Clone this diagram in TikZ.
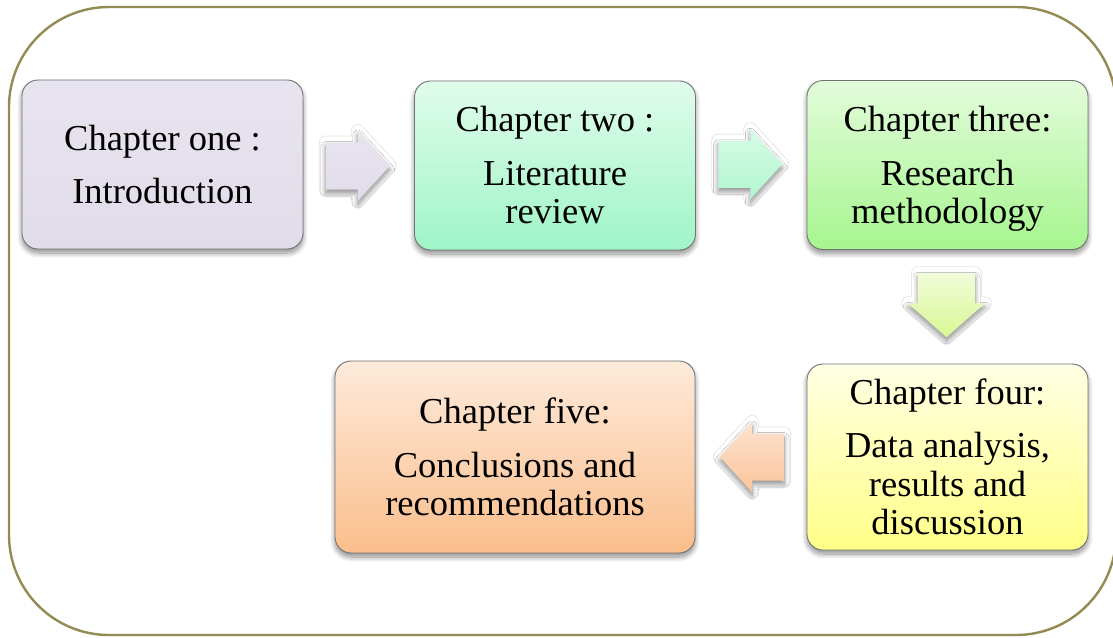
\documentclass[tikz,border=0pt]{standalone}
\usepackage{fontspec}
\setmainfont{Liberation Serif}
\usetikzlibrary{calc,backgrounds,shadows.blur}

\definecolor{framecol}{RGB}{148,138,84}
\definecolor{oneTop}{RGB}{232,228,239}
\definecolor{oneBot}{RGB}{225,220,233}
\definecolor{twoTop}{RGB}{225,252,236}
\definecolor{twoBot}{RGB}{158,245,198}
\definecolor{threeTop}{RGB}{227,252,219}
\definecolor{threeBot}{RGB}{166,245,143}
\definecolor{fourTop}{RGB}{255,255,228}
\definecolor{fourBot}{RGB}{255,255,136}
\definecolor{fiveTop}{RGB}{253,234,218}
\definecolor{fiveBot}{RGB}{251,190,140}
\definecolor{arTwoTop}{RGB}{216,251,230}
\definecolor{arTwoBot}{RGB}{176,246,206}
\definecolor{arThreeTop}{RGB}{241,252,216}
\definecolor{arThreeBot}{RGB}{216,247,148}
\definecolor{arFourTop}{RGB}{253,227,207}
\definecolor{arFourBot}{RGB}{251,196,154}

\tikzset{
  softshadow/.style={blur shadow={shadow xshift=0pt, shadow yshift=-4pt,
      shadow blur radius=5pt, shadow blur steps=10, shadow opacity=45}},
  chapbox/.style={rectangle, rounded corners=16pt, draw=black!55, line width=0.9pt,
      minimum width=281pt, minimum height=169pt, align=center, inner sep=0pt,
      font=\fontsize{36.5pt}{38.5pt}\selectfont, softshadow},
  halo/.style={draw=black!10, line width=0.9pt, rounded corners=22pt},
  arrowring/.style={draw=black!10, line width=14pt, line join=round},
  arrowgap/.style={draw=white, line width=12.2pt, line join=round},
  arrowbody/.style={softshadow},
}

% horizontal block arrow pointing right, centred on #1
\newcommand\rightblock[2]{%
  \path[#2] ([shift={(-32,-23.5)}]#1) -- ([shift={(0,-23.5)}]#1)
    -- ([shift={(0,-35)}]#1) -- ([shift={(32,0)}]#1) -- ([shift={(0,35)}]#1)
    -- ([shift={(0,23.5)}]#1) -- ([shift={(-32,23.5)}]#1) -- cycle;}
% horizontal block arrow pointing left, centred on #1
\newcommand\leftblock[2]{%
  \path[#2] ([shift={(32,-23.5)}]#1) -- ([shift={(0,-23.5)}]#1)
    -- ([shift={(0,-35)}]#1) -- ([shift={(-32,0)}]#1) -- ([shift={(0,35)}]#1)
    -- ([shift={(0,23.5)}]#1) -- ([shift={(32,23.5)}]#1) -- cycle;}
% vertical block arrow pointing down, centred on #1
\newcommand\downblock[2]{%
  \path[#2] ([shift={(-28.5,-32)}]#1) -- ([shift={(28.5,-32)}]#1)
    -- ([shift={(28.5,-2)}]#1) -- ([shift={(38.5,-2)}]#1) -- ([shift={(0,32)}]#1)
    -- ([shift={(-38.5,-2)}]#1) -- ([shift={(-28.5,-2)}]#1) -- cycle;}
% a line whose descenders do not count towards the text block
\newcommand\nodepth[1]{\raisebox{0pt}[\height][0pt]{#1}}

\begin{document}
\begin{tikzpicture}[x=1pt,y=-1pt]
\useasboundingbox (0,0) rectangle (1113,637);

% outer frame, its right side runs past the page edge
\draw[framecol, line width=2.4pt, rounded corners=100pt] (9,7) rectangle (1116,635);

% chapter boxes
\node[chapbox, top color=oneTop, bottom color=oneBot] (c1) at (162.5,164.5)
  {Chapter one :\\[15pt]Introduction};
\node[chapbox, top color=twoTop, bottom color=twoBot] (c2) at (555,165.5)
  {Chapter two :\\[15pt]Literature\\review};
\node[chapbox, top color=threeTop, bottom color=threeBot] (c3) at (947.5,165)
  {Chapter three:\\[15pt]Research\\\nodepth{methodology}};
\node[chapbox, top color=fourTop, bottom color=fourBot, minimum height=186pt] (c4) at (947.5,457)
  {Chapter four:\\[15pt]Data analysis,\\results and\\discussion};
\node[chapbox, top color=fiveTop, bottom color=fiveBot, minimum width=360pt, minimum height=192pt] (c5) at (515,457)
  {Chapter five:\\[15pt]Conclusions and\\recommendations};

% faint halos round the boxes
\begin{scope}[on background layer]
  \foreach \b in {c1,c2,c3,c4,c5}
    \draw[halo] ([shift={(-7,-7)}]\b.north west) rectangle ([shift={(7,7)}]\b.south east);
\end{scope}

% connectors between the chapters
\coordinate (a12) at ($(c1.east)!0.5!(c2.west)+(-1,1)$);
\coordinate (a23) at ($(c2.east)!0.5!(c3.west)+(-1,-1)$);
\coordinate (a34) at ($(c3.south)!0.5!(c4.north)+(-1,-1.5)$);
\coordinate (a45) at ($(c4.west)!0.5!(c5.east)+(1,0)$);

\rightblock{a12}{arrowring}
\rightblock{a12}{arrowgap}
\rightblock{a12}{arrowbody, top color=oneTop, bottom color=oneBot}

\rightblock{a23}{arrowring}
\rightblock{a23}{arrowgap}
\rightblock{a23}{arrowbody, top color=arTwoTop, bottom color=arTwoBot}

\downblock{a34}{arrowring}
\downblock{a34}{arrowgap}
\downblock{a34}{arrowbody, top color=arThreeTop, bottom color=arThreeBot}

\leftblock{a45}{arrowring}
\leftblock{a45}{arrowgap}
\leftblock{a45}{arrowbody, top color=arFourTop, bottom color=arFourBot}
\end{tikzpicture}
\end{document}
